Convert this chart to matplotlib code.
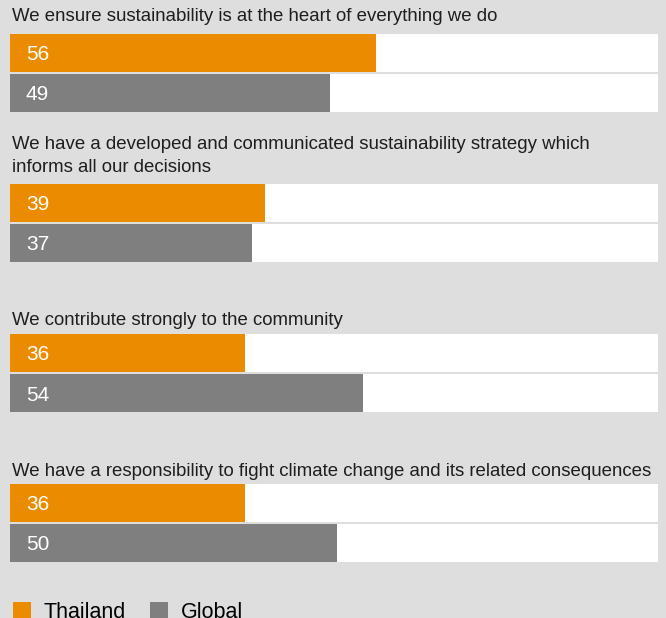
import matplotlib.pyplot as plt
from matplotlib.patches import Patch

plt.rcParams["font.family"] = ["Liberation Sans", "DejaVu Sans"]

# Survey statements and shares (%)
statements = [
    "We ensure sustainability is at the heart of everything we do",
    "We have a developed and communicated sustainability strategy which\ninforms all our decisions",
    "We contribute strongly to the community",
    "We have a responsibility to fight climate change and its related consequences",
]
thailand = [56, 39, 36, 36]
global_ = [49, 37, 54, 50]
series_names = ["Thailand", "Global"]

orange = "#EB8C00"
grey = "#7F7F7F"
bg = "#DEDEDE"

# last-line baseline of each statement, relative to its orange bar centre
title_y = [-0.213, -0.207, -0.187, -0.180]

fig = plt.figure(figsize=(6.66, 6.18), dpi=100, facecolor=bg)
W, H = 666, 618
ax = fig.add_axes([10 / W, 0, 653 / W, 1])
ax.set_facecolor(bg)
ax.set_xlim(0, 100)
ax.set_ylim(3.767, -0.353)
ax.axis("off")

track_end = 99.2
bar_h = 0.25
step = 0.267

for i, (text, th, gl) in enumerate(zip(statements, thailand, global_)):
    y_th = i
    y_gl = i + step
    ax.barh([y_th, y_gl], [track_end, track_end], height=bar_h, color="white", left=0)
    ax.barh(y_th, th, height=bar_h, color=orange)
    ax.barh(y_gl, gl, height=bar_h, color=grey)
    ax.text(2.45, y_th, str(th), color="white", fontsize=15, va="center_baseline", ha="left")
    ax.text(2.45, y_gl, str(gl), color="white", fontsize=15, va="center_baseline", ha="left")
    ax.text(0.3, i + title_y[i], text, color="#1E1E1E", fontsize=13.45, va="baseline",
            ha="left", linespacing=1.42)

handles = [Patch(facecolor=orange, label=series_names[0]),
           Patch(facecolor=grey, label=series_names[1])]
fig.legend(handles=handles, loc="lower left", bbox_to_anchor=(13 / W, -5 / H), ncol=2,
           frameon=False, fontsize=15.5, handlelength=0.82, handleheight=0.82,
           handletextpad=0.62, columnspacing=1.12, borderpad=0, borderaxespad=0)

fig.savefig("out.png", dpi=100, facecolor=bg)
